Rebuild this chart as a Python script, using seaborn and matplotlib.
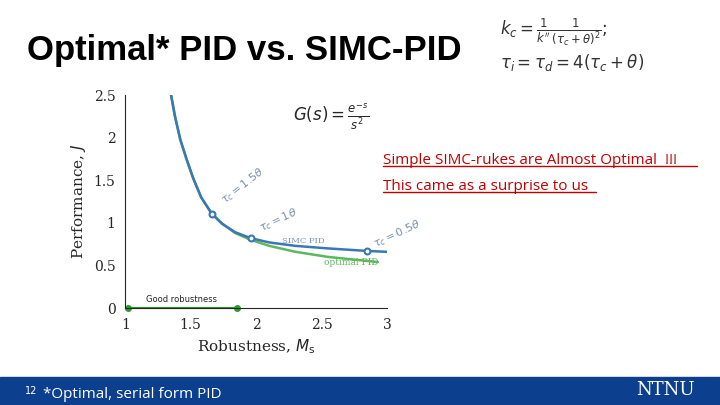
import matplotlib
matplotlib.use("Agg")
import matplotlib.pyplot as plt
import seaborn as sns
import pandas as pd

sns.set_style("white")
plt.rcParams['font.family'] = ['DejaVu Sans']

# SIMC-PID trade-off curve (robustness Ms vs performance J)
simc_ms = [1.35, 1.38, 1.42, 1.47, 1.52, 1.58, 1.66, 1.74, 1.84, 1.96, 2.10, 2.30, 2.55, 2.85, 3.00]
simc_j = [2.50, 2.25, 1.98, 1.74, 1.52, 1.30, 1.11, 0.99, 0.89, 0.82, 0.77, 0.73, 0.70, 0.67, 0.66]
opt_ms = [1.35, 1.38, 1.42, 1.47, 1.52, 1.58, 1.66, 1.74, 1.84, 1.96, 2.10, 2.30, 2.55, 2.93]
opt_j = [2.50, 2.25, 1.98, 1.74, 1.52, 1.30, 1.11, 0.99, 0.88, 0.80, 0.73, 0.66, 0.60, 0.54]
mark_ms = [1.66, 1.96, 2.85]
mark_j = [1.11, 0.82, 0.67]
mark_labels = [r"$\tau_c = 1.5\theta$", r"$\tau_c = 1\theta$", r"$\tau_c = 0.5\theta$"]

fig = plt.figure(figsize=(7.2, 4.05), dpi=100)
ax = fig.add_axes([0.174, 0.2395, 0.3635, 0.5255])

df = pd.concat([
    pd.DataFrame({"Ms": opt_ms, "J": opt_j, "ctrl": "optimal PID"}),
    pd.DataFrame({"Ms": simc_ms, "J": simc_j, "ctrl": "SIMC PID"}),
])
sns.lineplot(data=df, x="Ms", y="J", hue="ctrl", palette=["#5cb85c", "#3a78b5"],
             lw=1.8, legend=False, ax=ax, sort=False)
ax.scatter(mark_ms, mark_j, s=18, facecolor="white", edgecolor="#3a78b5", lw=1.5, zorder=5)
rots = [38, 25, 25]
offs = [(0.05, 0.12), (0.05, 0.08), (0.03, 0.05)]
for m, j, t, r, o in zip(mark_ms, mark_j, mark_labels, rots, offs):
    ax.text(m + o[0], j + o[1], t, color="#7a90b0", fontsize=8, rotation=r, family="DejaVu Serif")
ax.text(2.2, 0.76, "SIMC PID", color="#7a90b0", fontsize=6, family="DejaVu Serif")
ax.text(2.52, 0.50, "optimal PID", color="#5cb85c", fontsize=6.5, family="DejaVu Serif")
ax.text(2.28, 2.2, r"$G(s) = \frac{e^{-s}}{s^2}$", fontsize=12)

# good robustness bar
ax.plot([1.02, 1.85], [0, 0], color="#2e9a2e", lw=1.5, marker="o", ms=4, clip_on=False)
ax.text(1.43, 0.05, "Good robustness", fontsize=6, ha="center", va="bottom")

ax.set_xlim(1, 3)
ax.set_ylim(0, 2.5)
ax.set_xticks([1, 1.5, 2, 2.5, 3])
ax.set_xticklabels(["1", "1.5", "2", "2.5", "3"], family="DejaVu Serif")
ax.set_yticks([0, 0.5, 1, 1.5, 2, 2.5])
ax.set_yticklabels(["0", "0.5", "1", "1.5", "2", "2.5"], family="DejaVu Serif")
ax.tick_params(labelsize=10)
for s in ["top", "right"]:
    ax.spines[s].set_visible(False)
ax.set_xlabel(r"Robustness, $M_{\rm s}$", fontsize=11, family="DejaVu Serif")
ax.set_ylabel(r"Performance, $J$", fontsize=11, family="DejaVu Serif")

fig.text(0.037, 0.875, "Optimal* PID vs. SIMC-PID", fontsize=25, va="center",
         weight="bold", family="Liberation Sans", color="black")
fig.text(0.695, 0.92, r"$k_c = \frac{1}{k''}\frac{1}{(\tau_c+\theta)^2};$", fontsize=12, va="center", color="#333333")
fig.text(0.695, 0.845, r"$\tau_i = \tau_d = 4(\tau_c+\theta)$", fontsize=12, va="center", color="#333333")

red = "#c00000"
fig.text(0.532, 0.595, "Simple SIMC-rukes are Almost Optimal  !!!", color=red, fontsize=11, family="Open Sans")
fig.text(0.532, 0.53, "This came as a surprise to us", color=red, fontsize=11, family="Open Sans")
fig.add_artist(plt.Line2D([0.532, 0.968], [0.59, 0.59], color=red, lw=1))
fig.add_artist(plt.Line2D([0.532, 0.828], [0.525, 0.525], color=red, lw=1))

# footer
fig.add_artist(plt.Rectangle((0, 0), 1, 0.068, color="#0d3f8f", transform=fig.transFigure))
fig.text(0.035, 0.028, "12", fontsize=7, color="white")
fig.text(0.06, 0.018, "*Optimal, serial form PID", fontsize=11, color="white", family="Open Sans")
fig.text(0.965, 0.025, "NTNU", fontsize=13, color="white", ha="right", family="DejaVu Serif")

fig.savefig("out.png", dpi=100)
